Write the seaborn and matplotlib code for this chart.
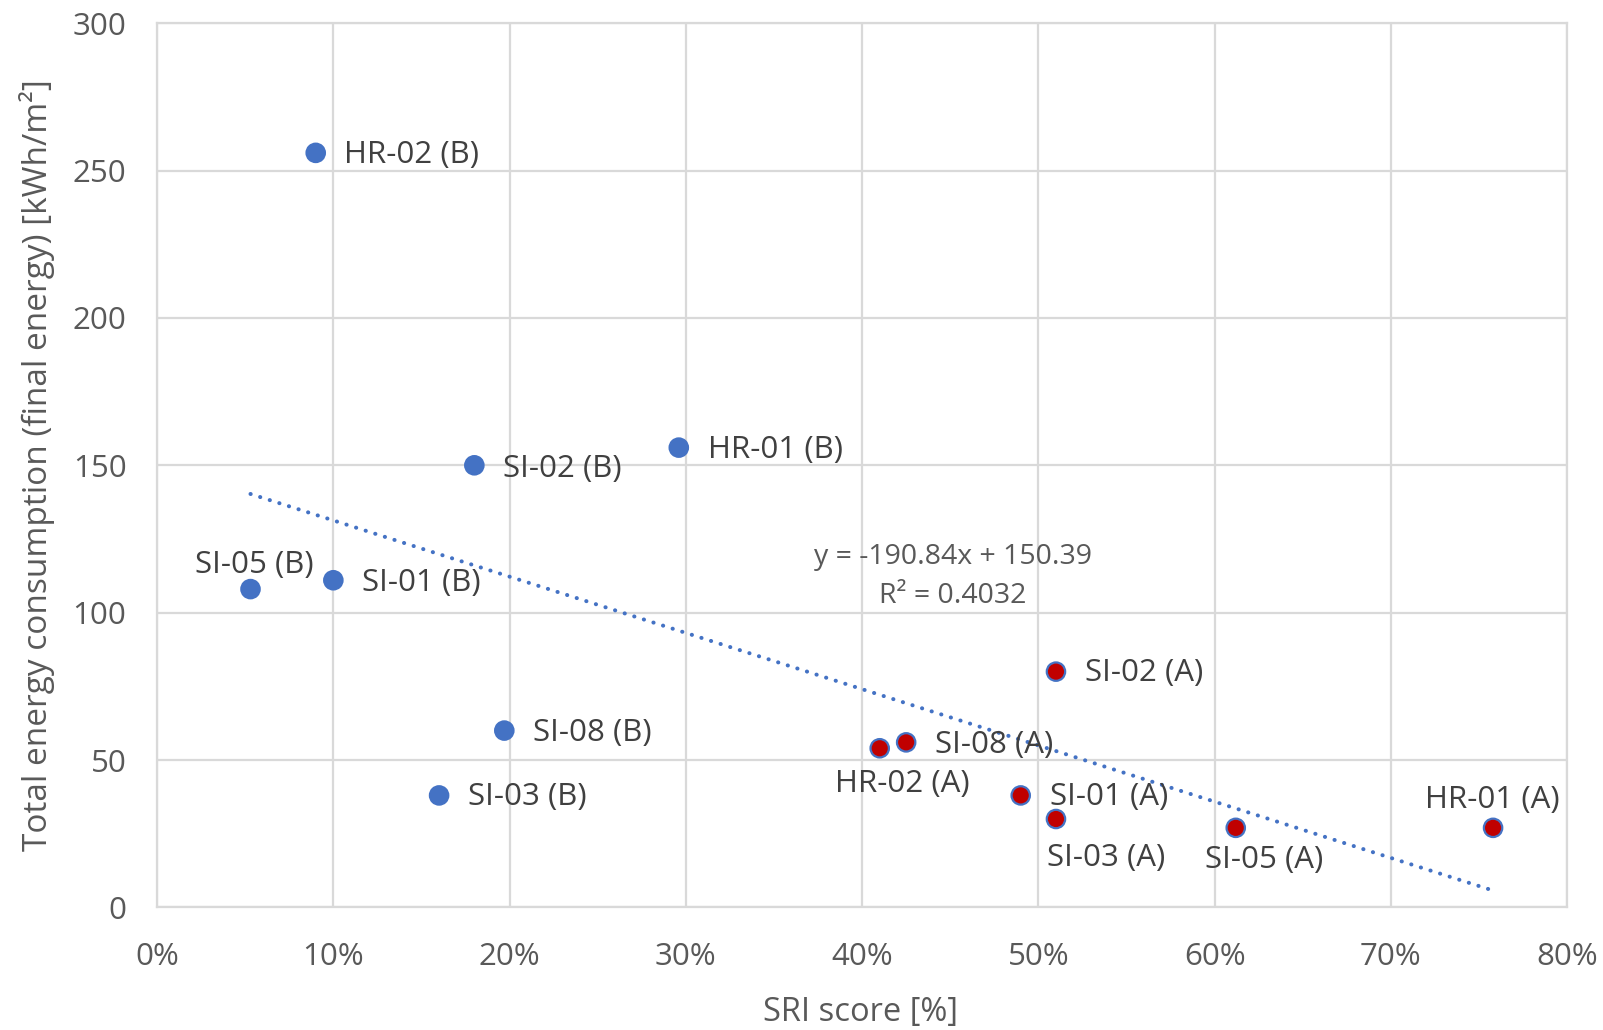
import numpy as np
import pandas as pd
import matplotlib
matplotlib.use("Agg")
import matplotlib.pyplot as plt
import seaborn as sns

# ---- data ----
labels = ["HR-02 (B)", "HR-01 (B)", "SI-02 (B)", "SI-05 (B)", "SI-01 (B)", "SI-08 (B)", "SI-03 (B)",
          "SI-02 (A)", "SI-08 (A)", "HR-02 (A)", "SI-01 (A)", "SI-03 (A)", "SI-05 (A)", "HR-01 (A)"]
sri_score = [0.09, 0.296, 0.18, 0.053, 0.10, 0.197, 0.16,
             0.51, 0.425, 0.41, 0.49, 0.51, 0.612, 0.758]
energy = [256, 156, 150, 108, 111, 60, 38,
          80, 56, 54, 38, 30, 27, 27]
group = ["B"] * 7 + ["A"] * 7
trend_slope = -190.84
trend_intercept = 150.39
trend_text = "y = -190.84x + 150.39\nR² = 0.4032"
x_ticks = [0, 0.1, 0.2, 0.3, 0.4, 0.5, 0.6, 0.7, 0.8]
y_ticks = [0, 50, 100, 150, 200, 250, 300]

# label placement: (dx, dy) in pixels, horizontal alignment
label_pos = {
    "HR-02 (B)": (28, -2, "left"),
    "HR-01 (B)": (29, -2, "left"),
    "SI-02 (B)": (29, -4, "left"),
    "SI-05 (B)": (4, 24, "center"),
    "SI-01 (B)": (29, -3, "left"),
    "SI-08 (B)": (29, -2, "left"),
    "SI-03 (B)": (29, -2, "left"),
    "SI-02 (A)": (29, -1, "left"),
    "SI-08 (A)": (29, -3, "left"),
    "HR-02 (A)": (23, -36, "center"),
    "SI-01 (A)": (29, -2, "left"),
    "SI-03 (A)": (50, -39, "center"),
    "SI-05 (A)": (28, -32, "center"),
    "HR-01 (A)": (-1, 28, "center"),
}

df = pd.DataFrame({"label": labels, "sri": sri_score, "energy": energy, "group": group})

BLUE = "#4472C4"
RED = "#C00000"
GRID = "#D9D9D9"
TICK = "#595959"
LABEL = "#404040"

sns.set_theme(style="white")
plt.rcParams["font.family"] = ["Open Sans", "DejaVu Sans"]

fig = plt.figure(figsize=(16.03, 10.30), dpi=100)
ax = fig.add_axes([0.098, 0.119, 0.8796, 0.8585])

# trendline
xt = np.array([min(sri_score), max(sri_score)])
yt = trend_slope * xt + trend_intercept
ax.plot(xt, yt, color=BLUE, lw=2.9, linestyle=(0, (0.05, 2.45)),
        dash_capstyle="round", zorder=2)

sns.scatterplot(data=df, x="sri", y="energy", hue="group",
                palette={"B": BLUE, "A": RED}, s=175, edgecolor=BLUE,
                linewidth=1.6, legend=False, ax=ax, zorder=3)

for lab, xv, yv in zip(labels, sri_score, energy):
    dx, dy, ha = label_pos[lab]
    ax.annotate(lab, (xv, yv), xytext=(dx, dy), textcoords="offset pixels",
                ha=ha, va="center", fontsize=22.5, color=LABEL, zorder=4)

ax.text(0.5644, 0.374, trend_text, transform=ax.transAxes, ha="center", va="center",
        fontsize=20.5, color=TICK, linespacing=1.55)

ax.set_xlim(0, 0.8)
ax.set_ylim(0, 300)
ax.set_xticks(x_ticks)
ax.set_yticks(y_ticks)
ax.set_xticklabels([f"{int(round(v*100))}%" for v in x_ticks])
ax.set_yticklabels([str(v) for v in y_ticks])
ax.tick_params(axis="both", labelsize=22.5, labelcolor=TICK, length=0)
ax.tick_params(axis="x", pad=25)
ax.tick_params(axis="y", pad=22)

ax.grid(True, color=GRID, lw=1.6)
ax.set_axisbelow(True)
for sp in ax.spines.values():
    sp.set_color(GRID)
    sp.set_linewidth(1.6)

ax.set_xlabel("SRI score [%]", fontsize=23.5, color=TICK)
ax.set_ylabel("Total energy consumption (final energy) [kWh/m²]", fontsize=24, color=TICK)
ax.xaxis.label.set_va("center")
ax.yaxis.label.set_va("center")
ax.xaxis.set_label_coords(0.499, -0.119)
ax.yaxis.set_label_coords(-0.085, 0.5)

fig.savefig("out.png", dpi=100)
